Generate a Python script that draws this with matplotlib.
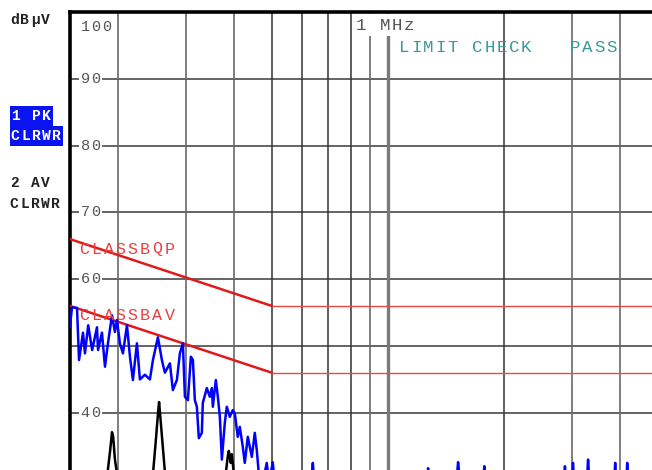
import matplotlib
matplotlib.use("Agg")
import matplotlib.pyplot as plt
from matplotlib.patches import Rectangle

# ---------------- data ----------------
# peak trace (blue), frequency in MHz, level in dBuV
pk_freq_mhz = [0.1500, 0.1518, 0.1564, 0.1583, 0.1621, 0.1640, 0.1672, 0.1712, 0.1762, 0.1773,
               0.1815, 0.1848, 0.1881, 0.1927, 0.1961, 0.1985, 0.2020, 0.2057, 0.2107, 0.2145,
               0.2183, 0.2236, 0.2276, 0.2345, 0.2416, 0.2460, 0.2534, 0.2595, 0.2642, 0.2722,
               0.2771, 0.2838, 0.2889, 0.2941, 0.2977, 0.3030, 0.3085, 0.3122, 0.3159, 0.3197,
               0.3235, 0.3293, 0.3313, 0.3393, 0.3454, 0.3496, 0.3517, 0.3580, 0.3623, 0.3667,
               0.3711, 0.3777, 0.3822, 0.3891, 0.3961, 0.4009, 0.4081, 0.4130, 0.4205, 0.4255,
               0.4332, 0.4437, 0.4517, 0.4571, 0.4625, 0.4792, 0.4850, 0.4920, 0.5027, 0.5100,
               0.6300, 0.6386, 0.6450, 1.2600, 1.2700, 1.2800, 1.5000, 1.5190, 1.5400, 1.7600,
               1.7760, 1.7900, 2.8500, 2.8730, 2.9000, 2.9900, 3.0140, 3.0400, 3.2700, 3.2980,
               3.3300, 3.8500, 3.8770, 3.9000, 4.1400, 4.1650, 4.1900, 4.8300]
pk_level_dbuv = [53.0, 55.8, 55.7, 47.9, 52.0, 48.9, 53.1, 49.4, 52.8, 49.4,
                 52.0, 46.9, 50.4, 54.6, 52.1, 53.9, 50.4, 48.9, 53.1, 48.4,
                 44.9, 50.4, 45.0, 45.7, 45.0, 47.9, 51.3, 47.9, 46.0, 47.4,
                 43.4, 44.9, 48.9, 50.4, 42.4, 41.9, 48.4, 47.9, 41.9, 40.9,
                 36.2, 37.0, 41.5, 43.7, 42.4, 43.7, 40.9, 44.9, 42.4, 39.4,
                 33.0, 38.5, 40.9, 39.4, 40.4, 39.9, 36.4, 37.9, 34.9, 32.5,
                 36.4, 33.4, 37.0, 34.4, 31.0, 31.0, 32.5, 29.5, 32.6, 29.0,
                 29.0, 32.5, 29.0, 29.0, 31.7, 29.0, 29.0, 32.6, 29.0, 29.0,
                 32.0, 29.0, 29.0, 32.0, 29.0, 29.0, 32.5, 29.0, 29.0, 33.0,
                 29.0, 29.0, 32.5, 29.0, 29.0, 32.5, 29.0, 29.0]

# average trace (black)
av_freq_mhz = [0.1500, 0.1859, 0.1907, 0.1927, 0.1940, 0.1961, 0.2008, 0.2445, 0.2500, 0.2540,
               0.2552, 0.2600, 0.2661, 0.3764, 0.3845, 0.3868, 0.3914, 0.3938, 0.3985, 0.4057,
               4.8300]
av_level_dbuv = [27.0, 29.0, 34.5, 37.1, 36.5, 33.0, 29.0, 29.0, 35.5, 40.5,
                 41.6, 36.0, 29.0, 29.0, 33.5, 34.3, 32.5, 33.8, 31.0, 29.0,
                 27.0]

# CISPR class B limits
limit_freq_mhz = [0.15, 0.5, 30.0]
limit_qp_dbuv = [66.0, 56.0, 56.0]
limit_av_dbuv = [56.0, 46.0, 46.0]

y_grid = [40, 50, 60, 70, 80, 90]
y_tick_values = [100, 90, 80, 70, 60, 40]
y_tick_labels = ["100", "90", "80", "70", "60", "40"]
x_grid_mhz = [0.2, 0.3, 0.4, 0.5, 0.6, 0.7, 0.8, 0.9, 1.0, 2.0, 3.0, 4.0]

# ---------------- figure ----------------
W, H = 652, 470
fig = plt.figure(figsize=(W / 100, H / 100), dpi=100)
fig.patch.set_facecolor("white")

PX_PER_DB = 6.68
top_px = 12
left_px = 70
ax = fig.add_axes([left_px / W, 0, (W - left_px) / W, (H - top_px) / H])
ax.set_xscale("log")
xmax = 0.15 * 10 ** ((W - left_px) / 386.0)
ax.set_xlim(0.15, xmax)
ax.set_ylim(100 - (H - top_px) / PX_PER_DB, 100)

for s in ["right", "bottom"]:
    ax.spines[s].set_visible(False)
for s in ["top", "left"]:
    ax.spines[s].set_linewidth(2.6)
    ax.spines[s].set_color("black")
ax.set_xticks([])
ax.set_yticks([])
ax.minorticks_off()

for g in y_grid:
    ax.axhline(g, color="#4a4a4a", lw=1.2, zorder=1)
for f in x_grid_mhz:
    if f == 1.0:
        ax.axvline(f, color="#7a7a7a", lw=2.4, zorder=1)
    elif f in (0.9, 0.2, 0.3, 0.4, 3.0, 4.0):
        ax.axvline(f, color="#6a6a6a", lw=1.2, zorder=1)
    else:
        ax.axvline(f, color="#333333", lw=1.1, zorder=1)

# limit lines: sloped part thick, flat part thin
ax.plot(limit_freq_mhz[:2], limit_qp_dbuv[:2], color="#e01a1a", lw=1.8, zorder=3)
ax.plot(limit_freq_mhz[1:], limit_qp_dbuv[1:], color="#e84a4a", lw=1.0, zorder=3)
ax.plot(limit_freq_mhz[:2], limit_av_dbuv[:2], color="#e01a1a", lw=1.8, zorder=3)
ax.plot(limit_freq_mhz[1:], limit_av_dbuv[1:], color="#e84a4a", lw=1.0, zorder=3)

ax.plot(av_freq_mhz, av_level_dbuv, color="black", lw=1.8, zorder=4)
ax.plot(pk_freq_mhz, pk_level_dbuv, color="#0000ff", lw=1.8, zorder=5)


def spaced_text(x_px, y_px, s, adv, **kw):
    for i, ch in enumerate(s):
        if ch == " ":
            continue
        fig.text((x_px + (i + 0.5) * adv) / W, 1 - y_px / H, ch,
                 ha="center", va="center", **kw)


def box(x_px, y_px, w_px, h_px, color, z=1.5):
    fig.add_artist(Rectangle((x_px / W, 1 - (y_px + h_px) / H), w_px / W, h_px / H,
                             transform=fig.transFigure, facecolor=color,
                             edgecolor="none", zorder=z))


mono = "Liberation Mono"

# y tick labels inside the plot
for v, lab in zip(y_tick_values, y_tick_labels):
    y_px = top_px + (100 - v) * PX_PER_DB
    if v == 100:
        y_px = 27
    else:
        box(79, y_px - 7, 10.5 * len(lab) + 2, 14, "white")
    spaced_text(80, y_px, lab, 10.5, family=mono, fontsize=11, color="#555555")

# left status labels
lbl = dict(family=mono, fontsize=10.5, fontweight="bold")
spaced_text(9, 20, "dBµV", 10.4, color="#222222", **lbl)
box(10, 106, 43, 20, "#0a14f0")
box(10, 126, 53, 20, "#0a14f0")
spaced_text(10, 116, "1 PK", 10.4, color="white", **lbl)
spaced_text(10, 136, "CLRWR", 10.4, color="white", **lbl)
spaced_text(9, 183, "2 AV", 10.4, color="#222222", **lbl)
spaced_text(9, 204, "CLRWR", 10.4, color="#222222", **lbl)

# annotations
box(355, 14, 64, 22, "white")
spaced_text(355, 25, "1 MHz", 12, family=mono, fontsize=12.5, color="#555555")
spaced_text(398, 48, "LIMIT CHECK   PASS", 12.2, family=mono, fontsize=12.5, color="#3a9a9a")
spaced_text(78, 249, "CLASSBQP", 12.2, family=mono, fontsize=12, color="#e84040")
spaced_text(78, 315, "CLASSBAV", 12.2, family=mono, fontsize=12, color="#e84040")

fig.savefig("out.png", dpi=100, facecolor="white")
